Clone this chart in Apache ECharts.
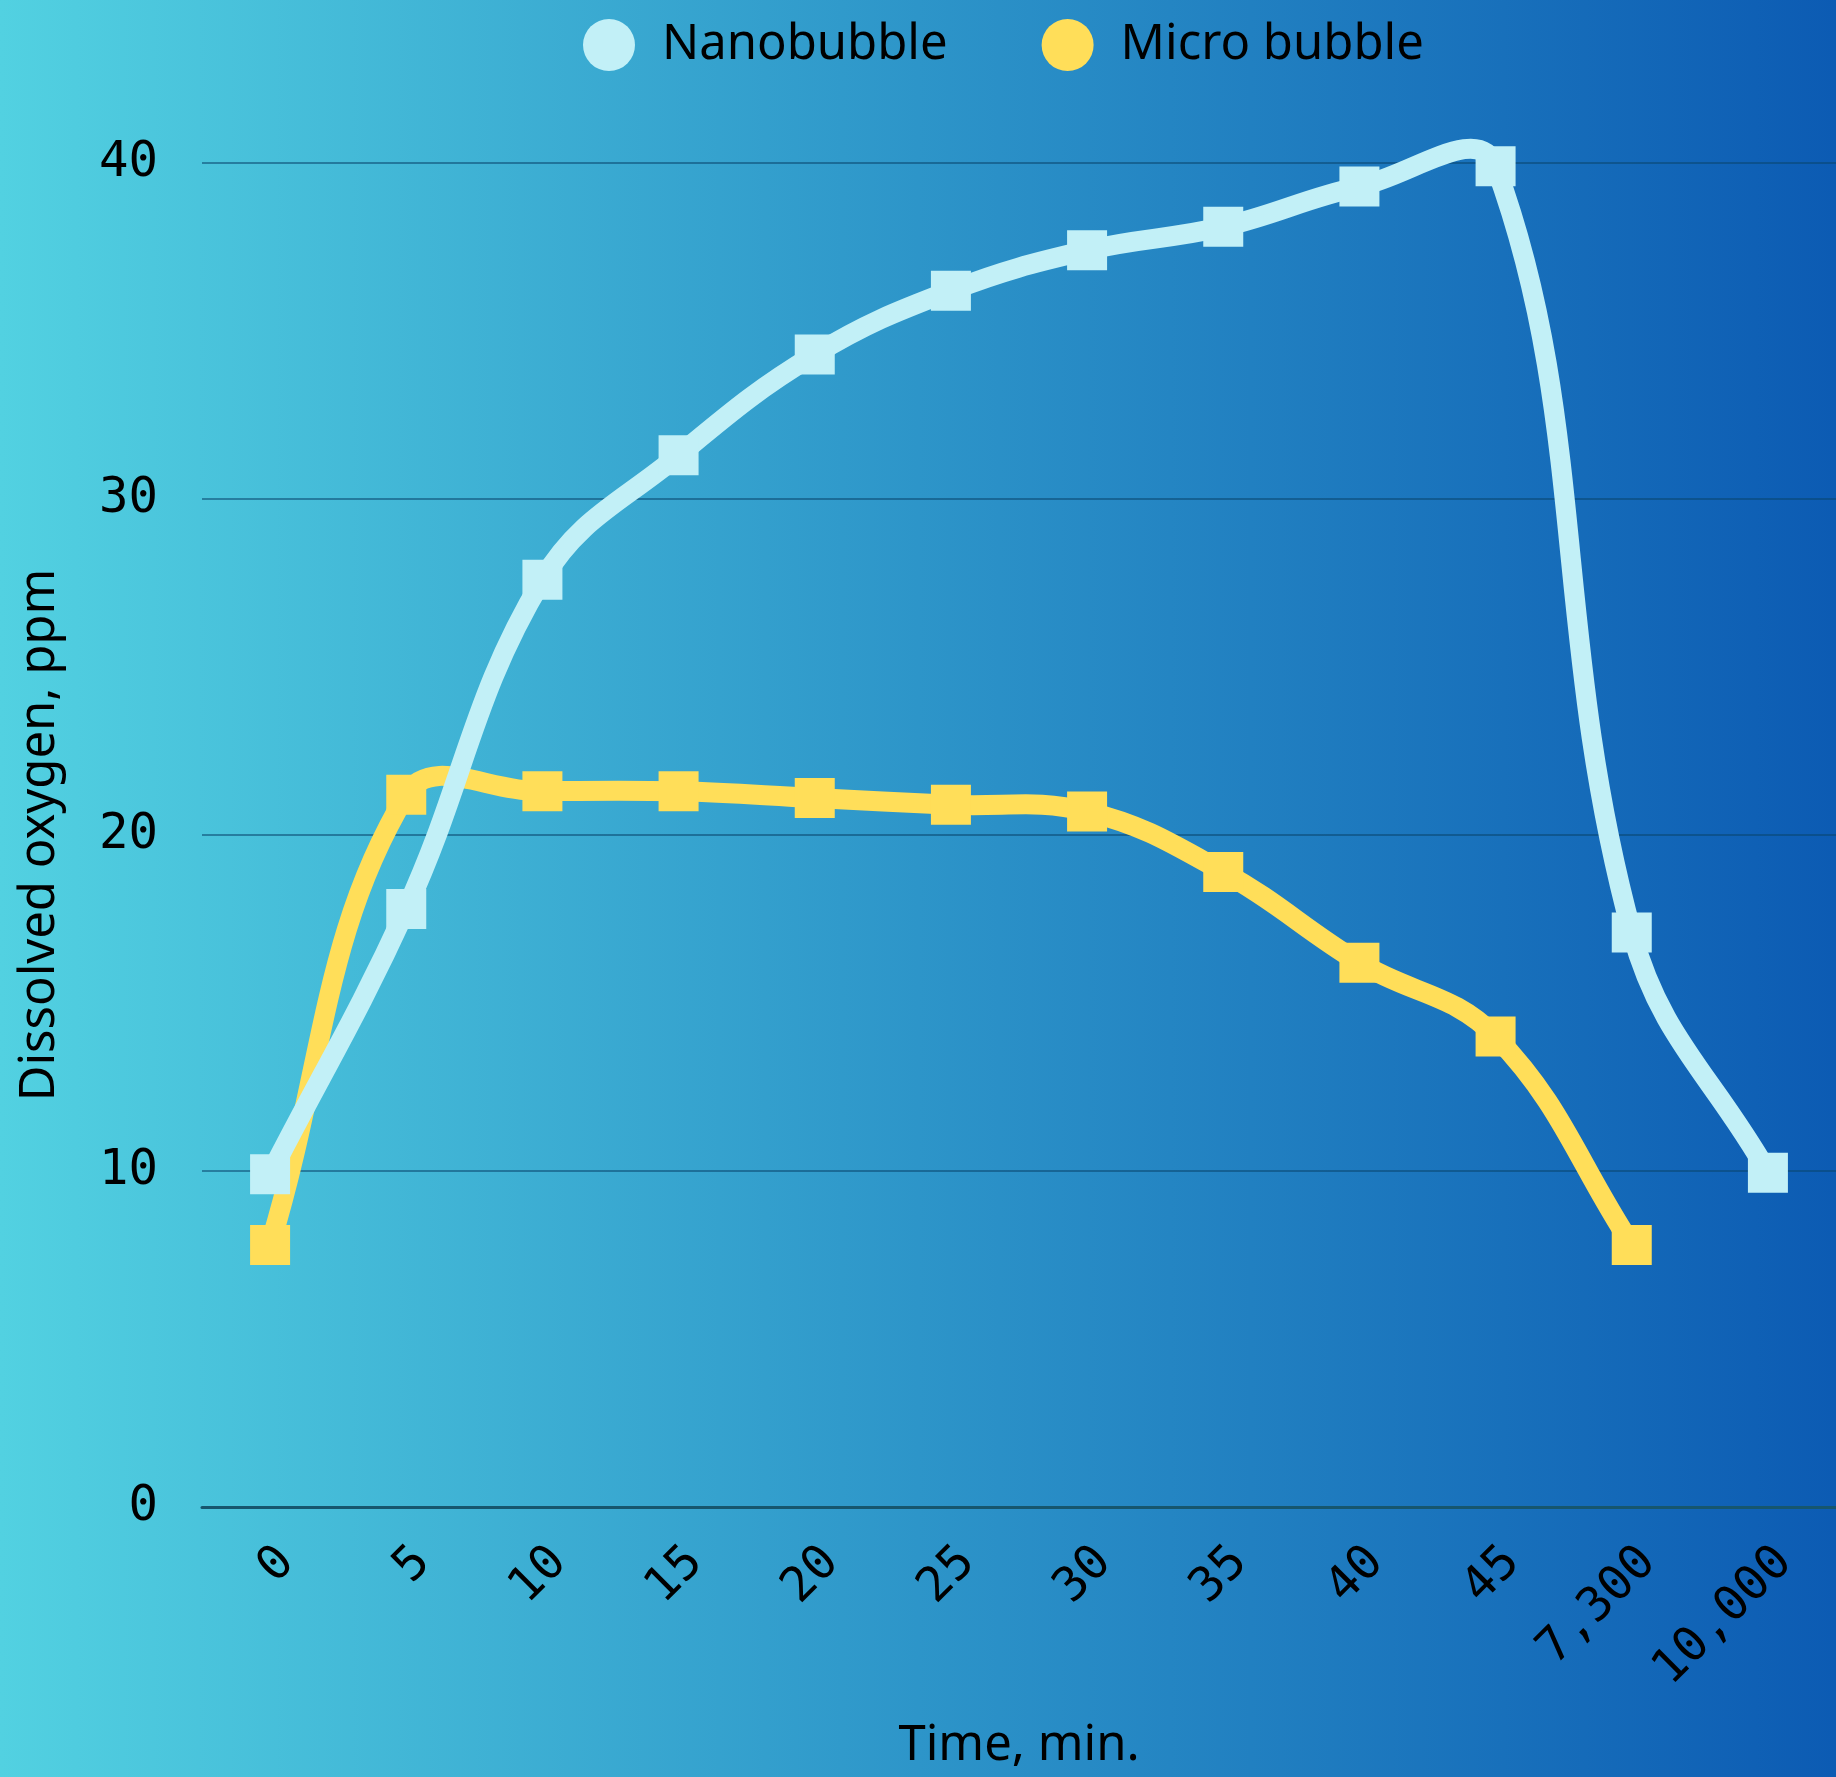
<!DOCTYPE html>
<html>
<head>
<meta charset="utf-8">
<script src="https://cdn.jsdelivr.net/npm/echarts@6/dist/echarts.min.js"></script>
<style>
  html, body { margin: 0; padding: 0; overflow: hidden; }
  #chart {
    width: 1836px; height: 1777px;
    background: linear-gradient(to right, #52d1e1 0%, #2d95c9 50%, #0c5bb3 100%);
  }
</style>
</head>
<body>
<div id="chart"></div>
<script>
// Sampling times (minutes)
const times = ['0', '5', '10', '15', '20', '25', '30', '35', '40', '45', '7,300', '10,000'];
// Dissolved oxygen readings, ppm
const nanobubble = [9.9, 17.8, 27.6, 31.3, 34.3, 36.2, 37.4, 38.1, 39.3, 39.9, 17.1, 9.95];
const microBubble = [7.8, 21.2, 21.3, 21.3, 21.1, 20.9, 20.7, 18.9, 16.2, 14.0, 7.8, null];
const yTicks = [0, 10, 20, 30, 40];

const NANO_COLOR = '#c2f0f7';
const MICRO_COLOR = '#ffde59';
const LINE_WIDTH = 20;
const TENSION = 0.4;

const monoFont = '"DejaVu Sans Mono", "Liberation Mono", monospace';
const sansFont = '"Noto Sans", "Open Sans", sans-serif';

// Cardinal-style spline through the projected points; segments are cubic Béziers
// whose control points follow the neighbouring points (distance weighted).
function splineItem(values, color) {
  return function (params, api) {
    const pts = [];
    values.forEach(function (v, i) {
      if (v !== null && v !== undefined) pts.push(api.coord([i, v]));
    });
    const ctrl = pts.map(function (p, i) {
      const prev = pts[i - 1] || p;
      const next = pts[i + 1] || p;
      const d01 = Math.hypot(p[0] - prev[0], p[1] - prev[1]);
      const d12 = Math.hypot(next[0] - p[0], next[1] - p[1]);
      const sum = d01 + d12 || 1;
      const fa = TENSION * d01 / sum;
      const fb = TENSION * d12 / sum;
      const vx = next[0] - prev[0];
      const vy = next[1] - prev[1];
      return {
        before: [p[0] - fa * vx, p[1] - fa * vy],
        after: [p[0] + fb * vx, p[1] + fb * vy]
      };
    });
    const children = [];
    for (let i = 0; i < pts.length - 1; i++) {
      children.push({
        type: 'bezierCurve',
        shape: {
          x1: pts[i][0], y1: pts[i][1],
          x2: pts[i + 1][0], y2: pts[i + 1][1],
          cpx1: ctrl[i].after[0], cpy1: ctrl[i].after[1],
          cpx2: ctrl[i + 1].before[0], cpy2: ctrl[i + 1].before[1]
        },
        style: { stroke: color, lineWidth: LINE_WIDTH, fill: 'none', lineCap: 'round' }
      });
    }
    return { type: 'group', children: children };
  };
}

function curveSeries(name, values, color) {
  return {
    name: name,
    type: 'custom',
    coordinateSystem: 'cartesian2d',
    data: [[0, 0]],
    encode: { x: 0, y: 1 },
    clip: false,
    silent: true,
    z: 2,
    itemStyle: { color: color },
    renderItem: splineItem(values, color)
  };
}

function markerSeries(name, values, color) {
  return {
    name: name,
    type: 'line',
    data: values,
    symbol: 'rect',
    symbolSize: 40,
    showAllSymbol: true,
    z: 3,
    itemStyle: { color: color },
    lineStyle: { width: 0, opacity: 0 },
    emphasis: { disabled: true }
  };
}

const chart = echarts.init(document.getElementById('chart'), null, { renderer: 'canvas' });

chart.setOption({
  backgroundColor: 'transparent',
  animation: false,
  legend: {
    top: 14,
    left: 578,
    itemWidth: 52,
    itemHeight: 52,
    itemGap: 94,
    icon: 'circle',
    textStyle: { fontFamily: sansFont, fontSize: 49, color: '#000', padding: [0, 0, 0, 22] },
    data: ['Nanobubble', 'Micro bubble']
  },
  grid: { left: 202, right: 0, top: 163, bottom: 270, containLabel: false, outerBoundsMode: 'none' },
  xAxis: {
    type: 'category',
    data: times,
    boundaryGap: true,
    name: 'Time, min.',
    nameLocation: 'middle',
    nameGap: 215,
    nameTextStyle: { fontFamily: sansFont, fontSize: 49, color: '#000' },
    axisLine: { show: true, lineStyle: { color: '#16566e', width: 3 } },
    axisTick: { show: false },
    axisLabel: {
      rotate: 45,
      margin: 31,
      interval: 0,
      verticalAlign: 'top',
      fontFamily: monoFont,
      fontSize: 48,
      color: '#000'
    }
  },
  yAxis: {
    type: 'value',
    min: yTicks[0],
    max: yTicks[yTicks.length - 1],
    interval: 10,
    name: 'Dissolved oxygen, ppm',
    nameLocation: 'middle',
    nameGap: 137,
    nameTextStyle: { fontFamily: sansFont, fontSize: 49, color: '#000' },
    axisLine: { show: false },
    axisTick: { show: false },
    axisLabel: {
      margin: 44,
      fontFamily: monoFont,
      fontSize: 49,
      color: '#000'
    },
    splitLine: { show: true, lineStyle: { color: 'rgba(10,70,110,0.55)', width: 2 } }
  },
  series: [
    curveSeries('Micro bubble', microBubble, MICRO_COLOR),
    curveSeries('Nanobubble', nanobubble, NANO_COLOR),
    markerSeries('Micro bubble', microBubble, MICRO_COLOR),
    markerSeries('Nanobubble', nanobubble, NANO_COLOR)
  ]
});
</script>
</body>
</html>
